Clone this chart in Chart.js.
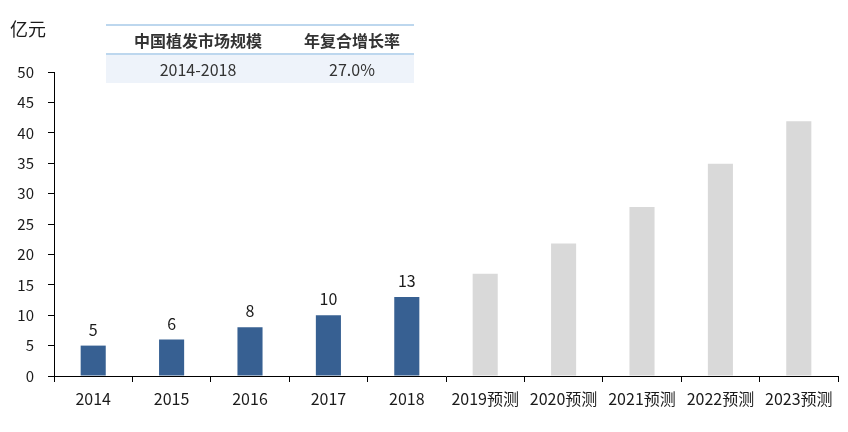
<!DOCTYPE html>
<html>
<head>
<meta charset="utf-8">
<script src="https://cdn.jsdelivr.net/npm/chart.js@4/dist/chart.umd.min.js"></script>
<style>
    html, body { margin: 0; padding: 0; background: #ffffff; }
    #wrap { position: relative; width: 848px; height: 432px; }
    #unit {
        position: absolute; left: 10px; top: 15px;
        font: 18px "Noto Sans CJK SC", sans-serif; color: #1a1a1a;
    }
    #cagr {
        position: absolute; left: 106px; top: 24px; width: 308px;
        border-collapse: collapse;
        font-family: "Noto Sans CJK SC", sans-serif; font-size: 16px; color: #333333;
    }
    #cagr th {
        height: 27px; font-weight: bold; padding: 0;
        border-top: 2px solid #bdd7ee; border-bottom: 2px solid #bdd7ee;
    }
    #cagr td { height: 28px; padding: 0; background: #eef3fa; text-align: center; }
</style>
</head>
<body>
<div id="wrap">
    <canvas id="graph1" width="848" height="432"></canvas>
    <div id="unit">亿元</div>
    <table id="cagr">
        <tr><th style="width:184px">中国植发市场规模</th><th>年复合增长率</th></tr>
        <tr><td>2014-2018</td><td>27.0%</td></tr>
    </table>
</div>
<script>
// Dados do gráfico
var actualYears = ['2014', '2015', '2016', '2017', '2018'];
var forecastYears = ['2019预测', '2020预测', '2021预测', '2022预测', '2023预测'];
var actualValues = [5, 6, 8, 10, 13];
var forecastValues = [16.8, 21.8, 27.8, 34.9, 41.9];
var yTicks = [0, 5, 10, 15, 20, 25, 30, 35, 40, 45, 50];

var labels = actualYears.concat(forecastYears);
var values = actualValues.concat(forecastValues);
var colors = actualValues.map(function () { return '#376092'; })
    .concat(forecastValues.map(function () { return '#d9d9d9'; }));

// Rótulos só nas barras reais
var valueLabels = {
    id: 'valueLabels',
    afterDatasetsDraw: function (chart) {
        var ctx = chart.ctx;
        var meta = chart.getDatasetMeta(0);
        ctx.save();
        ctx.font = '16px "Noto Sans CJK SC", sans-serif';
        ctx.fillStyle = '#1a1a1a';
        ctx.textAlign = 'center';
        ctx.textBaseline = 'bottom';
        actualValues.forEach(function (v, i) {
            var bar = meta.data[i];
            ctx.fillText(String(v), bar.x, bar.y - 8);
        });
        ctx.restore();
    }
};

var ctx = document.getElementById('graph1').getContext('2d');
var chart = new Chart(ctx, {
    type: 'bar',
    data: {
        labels: labels,
        datasets: [{
            data: values,
            backgroundColor: colors,
            barPercentage: 0.64,
            categoryPercentage: 0.5
        }]
    },
    options: {
        responsive: false,
        animation: false,
        layout: { padding: { top: 72, right: 10, left: 0, bottom: 0 } },
        scales: {
            x: {
                offset: true,
                grid: {
                    offset: true,
                    drawOnChartArea: false,
                    drawTicks: true,
                    tickLength: 6,
                    color: '#000000'
                },
                border: { color: '#000000', width: 1 },
                ticks: {
                    color: '#1a1a1a',
                    maxRotation: 0,
                    autoSkip: false,
                    padding: 7,
                    font: { family: '"Noto Sans CJK SC", sans-serif', size: 16 }
                },
                afterFit: function (scale) { scale.height = 56; }
            },
            y: {
                min: 0,
                max: 50,
                afterBuildTicks: function (scale) {
                    scale.ticks = yTicks.map(function (v) { return { value: v }; });
                },
                grid: {
                    drawOnChartArea: false,
                    drawTicks: true,
                    tickLength: 6,
                    color: '#000000'
                },
                border: { color: '#000000', width: 1 },
                ticks: {
                    color: '#1a1a1a',
                    padding: 14,
                    font: { family: '"Noto Sans CJK SC", sans-serif', size: 15 }
                },
                afterFit: function (scale) { scale.width = 54; }
            }
        },
        plugins: {
            legend: { display: false },
            tooltip: { enabled: false }
        }
    },
    plugins: [valueLabels]
});
</script>
</body>
</html>
